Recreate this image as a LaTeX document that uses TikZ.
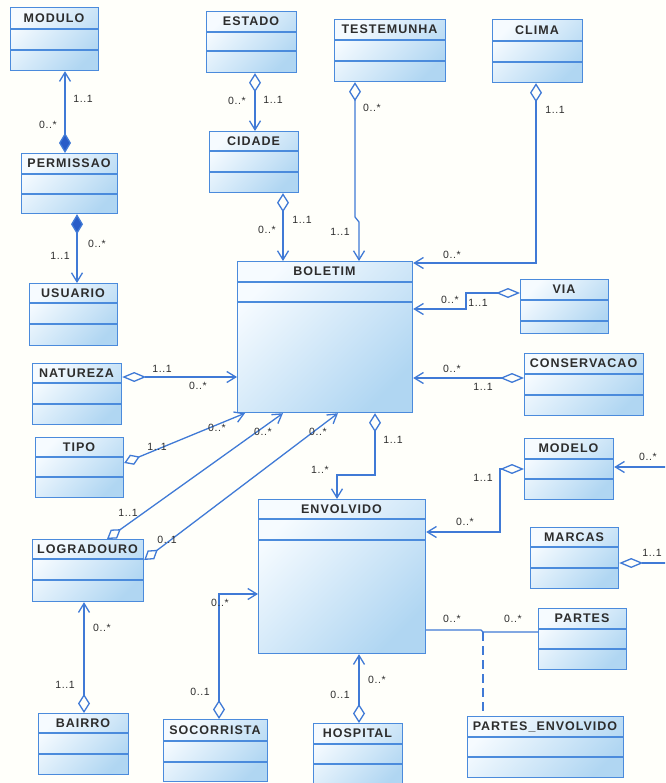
\documentclass[tikz,border=0pt]{standalone}
\usepackage{fontspec}
\setmainfont{Liberation Sans}
\newfontfamily\ttlfont[LetterSpace=8]{Liberation Sans}
\newfontfamily\lblfont[LetterSpace=6]{Liberation Sans}
\usetikzlibrary{arrows.meta,calc}
\definecolor{ln}{RGB}{64,122,214}
\definecolor{dk}{RGB}{40,92,200}
\definecolor{bx}{RGB}{75,139,220}
\definecolor{fa}{RGB}{246,251,255}
\definecolor{fb}{RGB}{176,214,242}
\definecolor{tx}{RGB}{45,45,45}
\definecolor{bg}{RGB}{255,255,250}
\tikzset{
 cls/.style={draw=bx, line width=1.2pt, top color=fa, bottom color=fb, shading angle=45, inner sep=0pt, anchor=north west},
 sepline/.style={draw=bx, line width=1.1pt},
 ttl/.style={font=\ttlfont\bfseries\fontsize{12.5}{13}\selectfont, text=tx, inner sep=0pt},
 lbl/.style={font=\lblfont\fontsize{10.5}{11}\selectfont, text=tx, inner sep=0pt},
 conn/.style={draw=ln, line width=1.3pt},
 nav/.style={conn, -{Straight Barb[length=9pt,width=11pt]}},
 agg/.style={conn, {Diamond[open,length=19pt,width=12pt]}-{Straight Barb[length=9pt,width=11pt]}},
 aggs/.style={conn, {Diamond[open,length=17pt,width=11pt]}-{Straight Barb[length=9pt,width=11pt]}},
 aggh/.style={conn, {Diamond[open,length=24pt,width=10pt]}-{Straight Barb[length=9pt,width=11pt]}},
 comp/.style={conn, {Diamond[length=20pt,width=12pt,fill=dk]}-{Straight Barb[length=9pt,width=11pt]}},
 aggonly/.style={conn, {Diamond[open,length=24pt,width=10pt]}-},
 dashconn/.style={conn, dash pattern=on 9pt off 5pt},
}
\newcommand{\umlcls}[8]{%
 \node[cls, minimum width={#4-#2}, minimum height={#5-#3}] (#1) at (#2,#3) {};
 \draw[sepline] (#2,#6) -- (#4,#6) (#2,#7) -- (#4,#7);
 \node[ttl] (#1t) at ({(#2+#4)/2},{(#3+#6)/2}) {#8};}
\newcommand{\mult}[4]{\node[lbl] (#1) at (#2,#3) {#4};}
\begin{document}
\begin{tikzpicture}[x=1pt,y=-1pt]
\useasboundingbox (0,0) rectangle (665,783);
\clip (0,0) rectangle (665,783);
\fill[bg] (0,0) rectangle (665,783);
% classes
\umlcls{modulo}{10}{7}{98}{70}{29}{50}{MODULO}
\umlcls{permissao}{21}{153}{117}{213}{174}{194}{PERMISSAO}
\umlcls{usuario}{29}{283}{117}{345}{303}{324}{USUARIO}
\umlcls{estado}{206}{11}{296}{72}{32}{51}{ESTADO}
\umlcls{cidade}{209}{131}{298}{192}{151}{172}{CIDADE}
\umlcls{testemunha}{334}{19}{445}{81}{40}{61}{TESTEMUNHA}
\umlcls{clima}{492}{19}{582}{82}{41}{62}{CLIMA}
\umlcls{boletim}{237}{261}{412}{412}{282}{302}{BOLETIM}
\umlcls{via}{520}{279}{608}{333}{300}{321}{VIA}
\umlcls{conservacao}{524}{353}{643}{415}{374}{395}{CONSERVACAO}
\umlcls{natureza}{32}{363}{121}{424}{383}{404}{NATUREZA}
\umlcls{tipo}{35}{437}{123}{497}{457}{477}{TIPO}
\umlcls{logradouro}{32}{539}{143}{601}{559}{580}{LOGRADOURO}
\umlcls{modelo}{524}{438}{613}{499}{459}{479}{MODELO}
\umlcls{marcas}{530}{527}{618}{588}{547}{568}{MARCAS}
\umlcls{envolvido}{258}{499}{425}{653}{519}{540}{ENVOLVIDO}
\umlcls{partes}{538}{608}{626}{669}{629}{649}{PARTES}
\umlcls{partesenv}{467}{716}{623}{777}{737}{757}{PARTES\_ENVOLVIDO}
\umlcls{hospital}{313}{723}{402}{790}{744}{764}{HOSPITAL}
\umlcls{socorrista}{163}{719}{267}{781}{741}{762}{SOCORRISTA}
\umlcls{bairro}{38}{713}{128}{774}{733}{754}{BAIRRO}
% connectors
\draw[comp] (permissao.north -| 65,0) -- (modulo.south -| 65,0);
\draw[comp] (permissao.south -| 77,0) -- (usuario.north -| 77,0);
\draw[agg] (estado.south -| 255,0) -- (cidade.north -| 255,0);
\draw[agg] (cidade.south -| 283,0) -- (boletim.north -| 283,0);
\draw[agg] (testemunha.south -| 355,0) -- (355,217) -- (359,222) -- (boletim.north -| 359,0);
\draw[agg] (clima.south -| 536,0) -- (536,263) -- (boletim.east |- 0,263);
\draw[aggh] (via.west |- 0,293) -- (466,293) -- (466,309) -- (boletim.east |- 0,309);
\draw[aggh] (conservacao.west |- 0,378) -- (boletim.east |- 0,378);
\draw[aggh] (natureza.east |- 0,377) -- (boletim.west |- 0,377);
\draw[aggs] (tipo.east |- 0,463) -- (boletim.south -| 245,0);
\draw[aggs] (logradouro.north -| 107,0) -- (boletim.south -| 283,0);
\draw[aggs] (logradouro.east |- 0,560) -- (boletim.south -| 338,0);
\draw[agg] (boletim.south -| 375,0) -- (375,475) -- (337,475) -- (envolvido.north -| 337,0);
\draw[aggh] (modelo.west |- 0,469) -- (500,469) -- (500,532) -- (envolvido.east |- 0,532);
\coordinate (mr) at (670,467);
\draw[nav] (mr) -- (modelo.east |- 0,467);
\coordinate (kr) at (670,563);
\draw[aggonly] (marcas.east |- 0,563) -- (kr);
\coordinate (asc) at (483,632);
\draw[conn] (envolvido.east |- 0,630) -- (481,630) -- (asc) -- (partes.west |- 0,632);
\draw[dashconn] (asc) -- (partesenv.north -| 483,0);
\draw[agg] (hospital.north -| 359,0) -- (envolvido.south -| 359,0);
\draw[agg] (socorrista.north -| 219,0) -- (219,594) -- (envolvido.west |- 0,594);
\draw[agg] (bairro.north -| 84,0) -- (logradouro.south -| 84,0);
% multiplicities
\mult{m1}{83}{99}{1..1}
\mult{m2}{48}{125}{0..*}
\mult{m3}{97}{244}{0..*}
\mult{m4}{60}{256}{1..1}
\mult{m5}{237}{101}{0..*}
\mult{m6}{273}{100}{1..1}
\mult{m7}{302}{220}{1..1}
\mult{m8}{267}{230}{0..*}
\mult{m9}{372}{108}{0..*}
\mult{m10}{340}{232}{1..1}
\mult{m11}{555}{110}{1..1}
\mult{m12}{452}{255}{0..*}
\mult{m13}{450}{300}{0..*}
\mult{m14}{478}{303}{1..1}
\mult{m15}{452}{369}{0..*}
\mult{m16}{483}{387}{1..1}
\mult{m17}{162}{369}{1..1}
\mult{m18}{198}{386}{0..*}
\mult{m19}{157}{447}{1..1}
\mult{m20}{217}{428}{0..*}
\mult{m21}{128}{513}{1..1}
\mult{m22}{263}{432}{0..*}
\mult{m23}{167}{540}{0..1}
\mult{m24}{318}{432}{0..*}
\mult{m25}{393}{440}{1..1}
\mult{m26}{320}{470}{1..*}
\mult{m27}{483}{478}{1..1}
\mult{m28}{465}{522}{0..*}
\mult{m29}{648}{457}{0..*}
\mult{m30}{652}{553}{1..1}
\mult{m31}{452}{619}{0..*}
\mult{m32}{513}{619}{0..*}
\mult{m33}{377}{680}{0..*}
\mult{m34}{340}{695}{0..1}
\mult{m35}{220}{603}{0..*}
\mult{m36}{200}{692}{0..1}
\mult{m37}{102}{628}{0..*}
\mult{m38}{65}{685}{1..1}
\end{tikzpicture}
\end{document}
